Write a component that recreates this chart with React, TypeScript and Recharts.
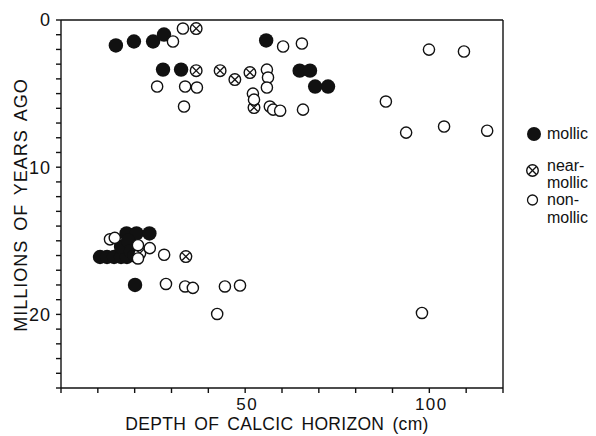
import React from "react";
import {
  ScatterChart,
  Scatter,
  XAxis,
  YAxis,
  ReferenceLine,
  Label,
  Customized,
} from "recharts";

// [depth of calcic horizon (cm), millions of years ago]
const mollicPoints = [
  [14.9, 1.73], [19.8, 1.46], [25.0, 1.46], [27.96, 0.99],
  [27.7, 3.37], [32.6, 3.37], [55.7, 1.39], [64.8, 3.44],
  [67.6, 3.44], [69.0, 4.52], [72.5, 4.52],
  [10.6, 16.1], [12.5, 16.1], [14.4, 16.1], [16.3, 16.1], [17.9, 16.1],
  [17.8, 14.5], [20.5, 14.5], [24.0, 14.5],
  [16.3, 15.4], [18.2, 15.0], [19.0, 15.7], [20.0, 16.0],
  [20.1, 18.0],
];

const nearMollicPoints = [
  [36.7, 0.58], [36.7, 3.44], [43.2, 3.44], [47.2, 4.05],
  [51.3, 3.57], [52.4, 5.95],
  [21.4, 15.85], [33.9, 16.07],
];

const nonMollicPoints = [
  [33.1, 0.58], [30.4, 1.46], [26.1, 4.52], [33.7, 4.52], [36.9, 4.59],
  [33.4, 5.88], [60.3, 1.8], [65.4, 1.6], [55.9, 3.37], [56.2, 3.91],
  [55.9, 4.59], [52.1, 5.0], [52.4, 5.41], [56.7, 5.88], [57.6, 6.09],
  [59.5, 6.16], [65.7, 6.09], [99.9, 2.01], [109.4, 2.14], [88.2, 5.54],
  [93.7, 7.65], [104.0, 7.24], [115.7, 7.52],
  [13.3, 14.9], [14.6, 14.8], [20.9, 15.3], [20.9, 16.2], [24.1, 15.5],
  [28.0, 15.95], [28.5, 17.93], [33.7, 18.1], [35.8, 18.2],
  [44.5, 18.1], [48.6, 18.04], [42.4, 19.97], [98.0, 19.9],
];

const xTicks = [0, 10, 20, 30, 40, 50, 60, 70, 80, 90, 100, 110, 120];
const xLabels = [50, 100];
const yTicks = Array.from({ length: 26 }, (_, i) => i);
const yLabels = [0, 10, 20];

const toRows = (pts: number[][]) => pts.map(([x, y]) => ({ x, y }));

const FONT = "'Liberation Sans', Arial, Helvetica, sans-serif";
const INK = "#111";

const FilledDot = (p: any) => <circle cx={p.cx} cy={p.cy} r={7.2} fill={INK} />;
const OpenDot = (p: any) => (
  <circle cx={p.cx} cy={p.cy} r={5.6} fill="#fff" stroke={INK} strokeWidth={1.4} />
);
const CrossDot = (p: any) => {
  const d = 3.7;
  return (
    <g>
      <circle cx={p.cx} cy={p.cy} r={5.8} fill="#fff" stroke={INK} strokeWidth={1.4} />
      <line x1={p.cx - d} y1={p.cy - d} x2={p.cx + d} y2={p.cy + d} stroke={INK} strokeWidth={1.3} />
      <line x1={p.cx - d} y1={p.cy + d} x2={p.cx + d} y2={p.cy - d} stroke={INK} strokeWidth={1.3} />
    </g>
  );
};

const XTick = ({ x, y, payload }: any) =>
  xLabels.includes(payload.value) ? (
    <text x={x + 2} y={y} dy={8.5} textAnchor="middle" fontSize={17} letterSpacing={1.5} fontFamily={FONT} fill={INK}>
      {payload.value}
    </text>
  ) : (
    <g />
  );

const YTick = ({ x, y, payload }: any) =>
  yLabels.includes(payload.value) ? (
    <text x={x} y={y} dy={6.3} textAnchor="end" fontSize={18} letterSpacing={1} fontFamily={FONT} fill={INK}>
      {payload.value}
    </text>
  ) : (
    <g />
  );

const Legend = () => (
  <g fontFamily={FONT} fontSize={16} fill={INK}>
    <circle cx={534} cy={134} r={7} fill={INK} />
    <text x={547} y={139}>mollic</text>
    <CrossDot cx={532.5} cy={170.5} />
    <text x={547} y={171}>near-</text>
    <text x={547} y={187.5}>mollic</text>
    <circle cx={532.5} cy={200} r={5} fill="#fff" stroke={INK} strokeWidth={1.3} />
    <text x={547} y={204.5}>non-</text>
    <text x={547} y={223}>mollic</text>
  </g>
);

export default function App() {
  return (
    <div style={{ position: "absolute", left: 0, top: 0, background: "#fff" }}>
      <ScatterChart width={596} height={436} margin={{ top: 20, right: 93, bottom: 0, left: 0 }}>
        <XAxis
          type="number"
          dataKey="x"
          domain={[0, 120]}
          ticks={xTicks}
          interval={0}
          tick={<XTick />}
          tickSize={5}
          tickMargin={8}
          height={48}
          stroke={INK}
          strokeWidth={1.4}
          allowDataOverflow
        >
          <Label
            content={() => (
              <text x={277} y={429.5} textAnchor="middle" fontSize={17.5} letterSpacing={0.3} wordSpacing={3} fontFamily={FONT} fill={INK}>
                DEPTH OF CALCIC HORIZON (cm)
              </text>
            )}
          />
        </XAxis>
        <YAxis
          type="number"
          dataKey="y"
          domain={[0, 25]}
          reversed
          ticks={yTicks}
          interval={0}
          tick={<YTick />}
          tickSize={5}
          tickMargin={5}
          width={61}
          stroke={INK}
          strokeWidth={1.4}
          allowDataOverflow
        >
          <Label
            content={() => (
              <text
                x={21}
                y={205}
                transform="rotate(-90 21 205)"
                textAnchor="middle"
                dominantBaseline="central"
                fontSize={18}
                letterSpacing={1}
                wordSpacing={3}
                fontFamily={FONT}
                fill={INK}
              >
                MILLIONS OF YEARS AGO
              </text>
            )}
          />
        </YAxis>
        <ReferenceLine y={0} stroke={INK} strokeWidth={1.4} />
        <ReferenceLine x={120} stroke={INK} strokeWidth={1.4} />
        <Scatter name="mollic" data={toRows(mollicPoints)} shape={FilledDot} isAnimationActive={false} />
        <Scatter name="near-mollic" data={toRows(nearMollicPoints)} shape={CrossDot} isAnimationActive={false} />
        <Scatter name="non-mollic" data={toRows(nonMollicPoints)} shape={OpenDot} isAnimationActive={false} />
        <Customized component={Legend} />
      </ScatterChart>
    </div>
  );
}
